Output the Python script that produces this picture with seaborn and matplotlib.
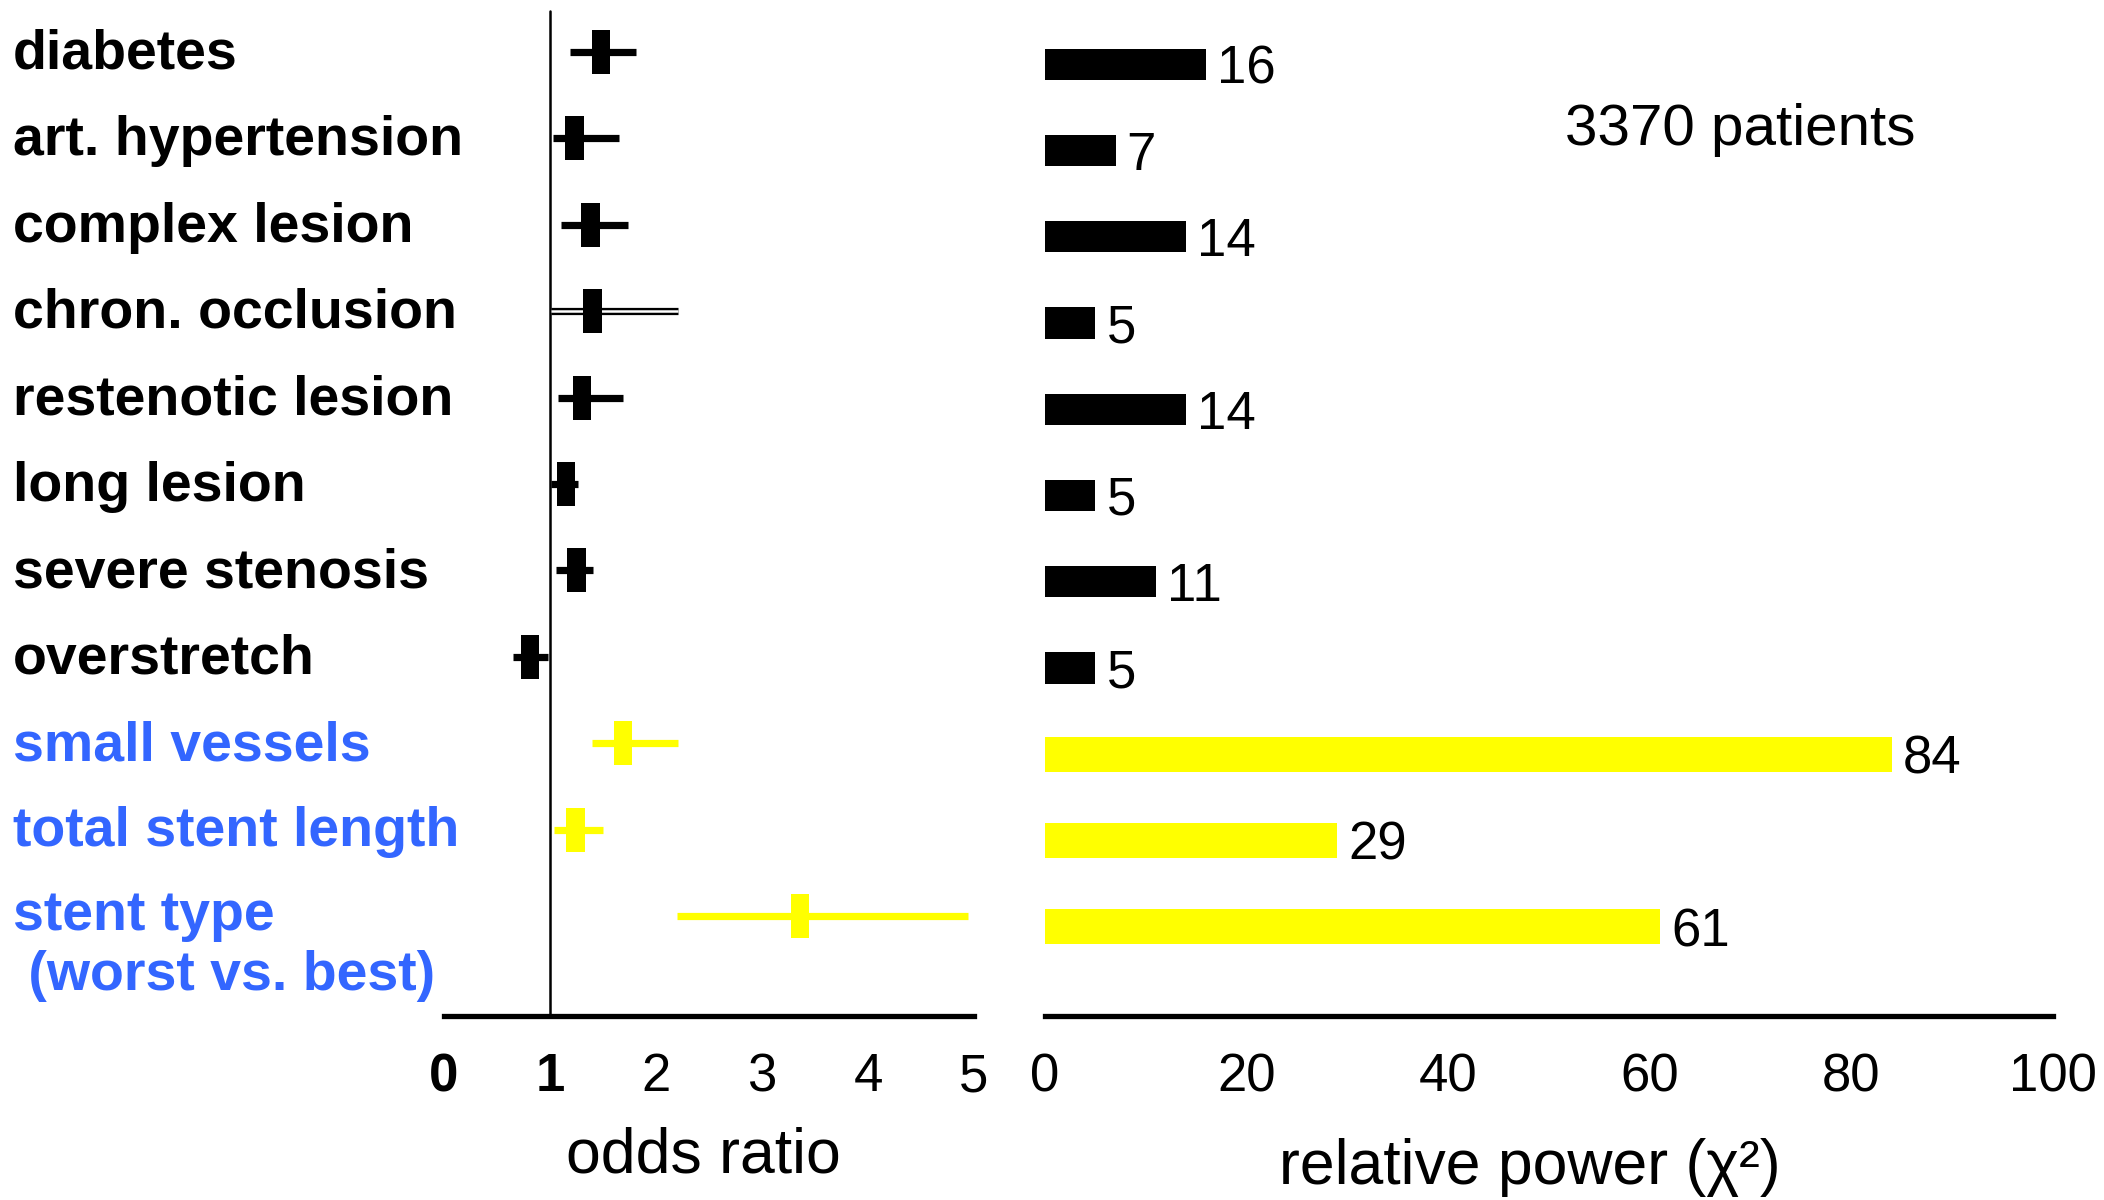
import matplotlib
matplotlib.use("Agg")
import matplotlib.pyplot as plt
from matplotlib.path import Path
from matplotlib.markers import MarkerStyle
import seaborn as sns
import numpy as np

# ---------------- data ----------------
categories = ["diabetes", "art. hypertension", "complex lesion", "chron. occlusion",
              "restenotic lesion", "long lesion", "severe stenosis", "overstretch",
              "small vessels", "total stent length", "stent type\n (worst vs. best)"]
group = ["patient", "patient", "patient", "patient", "patient", "patient",
         "patient", "patient", "procedure", "procedure", "procedure"]
odds_ratio = [1.48, 1.23, 1.38, 1.40, 1.30, 1.15, 1.25, 0.81, 1.69, 1.24, 3.36]
ci_low = [1.19, 1.03, 1.10, 1.01, 1.08, 1.01, 1.06, 0.65, 1.40, 1.04, 2.20]
ci_high = [1.81, 1.65, 1.74, 2.21, 1.69, 1.26, 1.41, 0.98, 2.21, 1.50, 4.94]
power = [16, 7, 14, 5, 14, 5, 11, 5, 84, 29, 61]
or_ticks = [0, 1, 2, 3, 4, 5]
power_ticks = [0, 20, 40, 60, 80, 100]
patients_note = "3370 patients"
hollow_ci = ["chron. occlusion"]

# ---------------- style ----------------
sns.set_theme(style="white")
plt.rcParams["font.family"] = ["Liberation Sans", "DejaVu Sans"]
BLACK = "#000000"
YELLOW = "#FFFF00"
BLUE = "#3366FF"
palette = {"patient": BLACK, "procedure": YELLOW}
label_colors = {"patient": BLACK, "procedure": BLUE}

W, H, DPI = 21.04, 12.0, 100
fig = plt.figure(figsize=(W, H), dpi=DPI)
fig.patch.set_facecolor("white")

axL = fig.add_axes([444 / 2104, 184 / 1200, 530 / 2104, 1016 / 1200])
axR = fig.add_axes([1045 / 2104, 184 / 1200, 1008 / 2104, 1016 / 1200])

rows = np.arange(len(categories))

# ---------------- forest plot ----------------
line_colors = [palette[g] for g in group]
axL.hlines(rows, ci_low, ci_high, colors=line_colors, linewidth=5.2, zorder=2)
for r, c, lo, hi in zip(rows, categories, ci_low, ci_high):
    if c in hollow_ci:
        axL.hlines(r, lo, hi, colors="white", linewidth=1.8, zorder=2.5)

rect = Path([(-0.21, -0.5), (0.21, -0.5), (0.21, 0.5), (-0.21, 0.5), (-0.21, -0.5)],
            closed=True)
sns.scatterplot(x=odds_ratio, y=rows, hue=group, palette=palette,
                marker=MarkerStyle(rect), s=1000, linewidth=0, legend=False,
                ax=axL, zorder=3)

axL.axvline(1, ymin=0, ymax=0.989, color=BLACK, linewidth=1.8, zorder=1)
axL.set_xlim(0, 5)
axL.set_ylim(11.157, -0.602)
axL.set_xticks(or_ticks)
axL.set_xticklabels([str(t) for t in or_ticks])
for t, lab in zip(or_ticks, axL.get_xticklabels()):
    if t in (0, 1):
        lab.set_fontweight("bold")
axL.set_yticks([])
axL.tick_params(axis="x", length=0, pad=26, labelsize=38, colors=BLACK)
for s in ["left", "right", "top"]:
    axL.spines[s].set_visible(False)
axL.spines["bottom"].set_linewidth(3.8)
axL.spines["bottom"].set_color(BLACK)
axL.set_xlabel("")
axL.set_ylabel("")
axL.text(0.489, -0.138, "odds ratio", transform=axL.transAxes, ha="center",
         va="center", fontsize=45, color=BLACK)

# category labels
for r, c, g in zip(rows, categories, group):
    if "\n" in c:
        axL.annotate(c, xy=(13 / 2104, r), xycoords=(fig.transFigure, axL.transData),
                     xytext=(0, 19), textcoords="offset points", ha="left", va="top",
                     fontsize=40, fontweight="bold", color=label_colors[g],
                     linespacing=1.22, annotation_clip=False)
    else:
        axL.annotate(c, xy=(13 / 2104, r), xycoords=(fig.transFigure, axL.transData),
                     xytext=(0, -2), textcoords="offset points",
                     ha="left", va="center", fontsize=40, fontweight="bold",
                     color=label_colors[g], annotation_clip=False)

# ---------------- bar plot ----------------
pat_idx = [i for i, g in enumerate(group) if g == "patient"]
pro_idx = [i for i, g in enumerate(group) if g == "procedure"]
sns.barplot(x=[power[i] for i in pat_idx], y=[rows[i] for i in pat_idx],
            orient="h", native_scale=True, color=BLACK, width=0.36,
            ax=axR, saturation=1)
sns.barplot(x=[power[i] for i in pro_idx], y=[rows[i] for i in pro_idx],
            orient="h", native_scale=True, color=YELLOW, width=0.41,
            ax=axR, saturation=1)
for cont in axR.containers:
    for p in cont.patches:
        p.set_linewidth(0)
    labs = axR.bar_label(cont, fmt="%d", padding=8, fontsize=38, color=BLACK)
    for t in labs:
        t.set_va("center_baseline")

axR.set_xlim(0, 100)
axR.set_ylim(11.035, -0.745)
axR.set_xticks(power_ticks)
axR.set_xticklabels([str(t) for t in power_ticks])
axR.set_yticks([])
axR.tick_params(axis="x", length=0, pad=26, labelsize=38, colors=BLACK)
for s in ["left", "right", "top"]:
    axR.spines[s].set_visible(False)
axR.spines["bottom"].set_linewidth(3.8)
axR.spines["bottom"].set_color(BLACK)
axR.set_xlabel("")
axR.set_ylabel("")
axR.text(0.481, -0.149, "relative power (χ²)", transform=axR.transAxes,
         ha="center", va="center", fontsize=45, color=BLACK)
axR.text(1740 / 2104, 1 - 130 / 1200, patients_note, transform=fig.transFigure,
         ha="center", va="center", fontsize=42, color=BLACK)

fig.savefig("out.png", dpi=DPI, facecolor="white")
